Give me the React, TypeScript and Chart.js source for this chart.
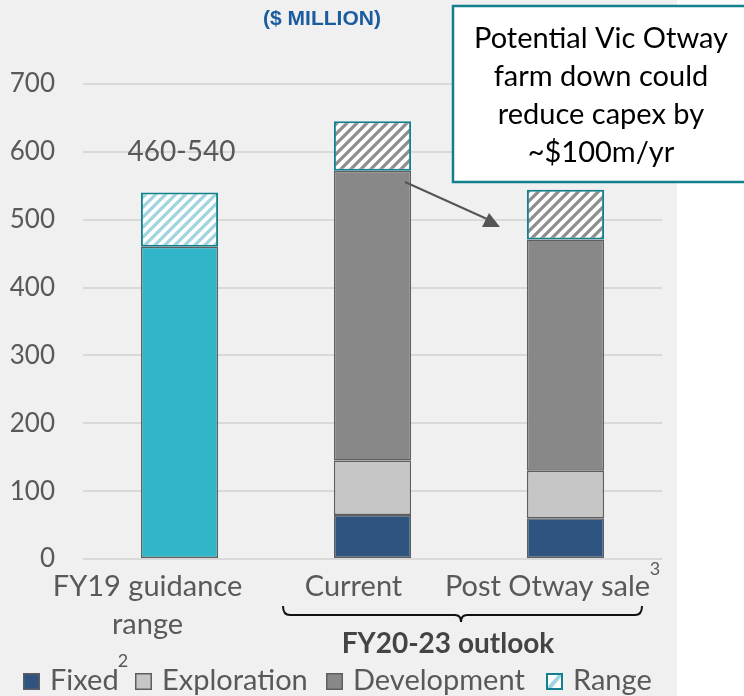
import React, { useEffect, useRef } from "react";
import { Chart, registerables } from "chart.js";

Chart.register(...registerables);

const categories = ["FY19 guidance range", "Current", "Post Otway sale"];
const fixedValues = [null, 65, 60];
const explorationValues = [null, 80, 70];
const developmentValues = [null, 427, 341];
const guidanceValues = [460, null, null];
const rangeValues = [80, 73, 73];
const yTickValues = [0, 100, 200, 300, 400, 500, 600, 700];
const rangeLabel = "460-540";
const xLabelLines = [["FY19 guidance", "range"], ["Current"], ["Post Otway sale"]];
const legendItems = ["Fixed", "Exploration", "Development", "Range"];
const title = "($ MILLION)";
const outlookLabel = "FY20-23 outlook";
const noteLines = ["Potential Vic Otway", "farm down could", "reduce capex by", "~$100m/yr"];

const FONT = "Lato, 'Open Sans', sans-serif";
const TEXT = "#595959";
const BG = "#f0f0f0";
const TEAL = "#13808d";
const BAR_BORDER = "#5e5e5e";
const C_FIXED = "#2f5480";
const C_EXPL = "#c6c6c6";
const C_DEV = "#888888";
const C_CYAN = "#31b6c9";

function stripes(color: string): CanvasPattern | string {
  const c = document.createElement("canvas");
  c.width = 10;
  c.height = 10;
  const x = c.getContext("2d");
  if (!x) return color;
  x.fillStyle = "#ffffff";
  x.fillRect(0, 0, 10, 10);
  x.strokeStyle = color;
  x.lineWidth = 3.2;
  x.beginPath();
  x.moveTo(-5, 15);
  x.lineTo(15, -5);
  x.moveTo(-10, 10);
  x.lineTo(10, -10);
  x.moveTo(0, 20);
  x.lineTo(20, 0);
  x.stroke();
  const p = x.createPattern(c, "repeat");
  return p || color;
}

const decorPlugin = {
  id: "decor",
  beforeDraw(chart: any) {
    const ctx = chart.ctx;
    ctx.save();
    ctx.fillStyle = "#ffffff";
    ctx.fillRect(0, 0, chart.width, chart.height);
    ctx.fillStyle = BG;
    ctx.fillRect(0, 0, 677, chart.height);
    ctx.restore();
  },
  afterDraw(chart: any) {
    const ctx = chart.ctx;
    const xs = chart.scales.x;
    const ys = chart.scales.y;
    ctx.save();
    // title
    ctx.fillStyle = "#1b5c9e";
    ctx.font = "bold 21px 'Liberation Sans', Arial, sans-serif";
    ctx.textAlign = "center";
    ctx.textBaseline = "middle";
    ctx.fillText(title, 322, 19);

    // range label above first bar
    ctx.fillStyle = TEXT;
    ctx.font = `28px ${FONT}`;
    ctx.fillText(rangeLabel, xs.getPixelForValue(0) + 2, ys.getPixelForValue(600));

    // x labels (shifted left like the original)
    const shifts = [-32, -19, -18];
    ctx.font = `29px ${FONT}`;
    xLabelLines.forEach((lines, i) => {
      const cx = xs.getPixelForValue(i) + shifts[i];
      lines.forEach((t, j) => {
        ctx.fillText(t, cx, 587 + j * 38);
      });
    });
    // superscript 3
    ctx.font = `18px ${FONT}`;
    ctx.fillText("3", 655, 569);

    // brace
    ctx.strokeStyle = "#111111";
    ctx.lineWidth = 2;
    ctx.beginPath();
    ctx.moveTo(283, 606);
    ctx.quadraticCurveTo(283, 615, 290, 615);
    ctx.lineTo(455, 615);
    ctx.quadraticCurveTo(461, 615, 461, 622);
    ctx.quadraticCurveTo(461, 615, 467, 615);
    ctx.lineTo(635, 615);
    ctx.quadraticCurveTo(642, 615, 642, 606);
    ctx.stroke();

    ctx.fillStyle = "#444444";
    ctx.font = `bold 28px ${FONT}`;
    ctx.fillText(outlookLabel, 448, 644);

    // legend
    const sq = [23, 135, 326, 546];
    const fills = [C_FIXED, C_EXPL, C_DEV, null];
    ctx.font = `29px ${FONT}`;
    ctx.textAlign = "left";
    legendItems.forEach((t, i) => {
      const x0 = sq[i];
      if (fills[i]) {
        ctx.fillStyle = fills[i];
        ctx.fillRect(x0, 673, 17, 17);
        ctx.strokeStyle = BAR_BORDER;
        ctx.lineWidth = 1.5;
        ctx.strokeRect(x0 + 0.75, 673.75, 15.5, 15.5);
      } else {
        ctx.fillStyle = "#ffffff";
        ctx.fillRect(x0, 673, 17, 17);
        ctx.fillStyle = "#a0d4de";
        ctx.beginPath();
        ctx.moveTo(x0 + 2, 688);
        ctx.lineTo(x0 + 6, 688);
        ctx.lineTo(x0 + 15, 677);
        ctx.lineTo(x0 + 15, 675);
        ctx.lineTo(x0 + 12, 675);
        ctx.lineTo(x0 + 2, 686);
        ctx.closePath();
        ctx.fill();
        ctx.strokeStyle = TEAL;
        ctx.lineWidth = 2;
        ctx.strokeRect(x0 + 1, 674, 15, 15);
      }
      ctx.fillStyle = TEXT;
      ctx.textBaseline = "middle";
      ctx.fillText(t, x0 + 27, 681);
    });
    ctx.textAlign = "center";
    ctx.font = `18px ${FONT}`;
    ctx.fillText("2", 123, 661);

    // arrow
    ctx.strokeStyle = "#555555";
    ctx.lineWidth = 2;
    ctx.beginPath();
    ctx.moveTo(405, 182);
    ctx.lineTo(487, 219);
    ctx.stroke();
    ctx.fillStyle = "#555555";
    ctx.beginPath();
    ctx.moveTo(489, 213);
    ctx.lineTo(500, 227);
    ctx.lineTo(482, 227);
    ctx.closePath();
    ctx.fill();

    // note box
    ctx.fillStyle = "#ffffff";
    ctx.fillRect(453, 6, 300, 176);
    ctx.strokeStyle = TEAL;
    ctx.lineWidth = 2.5;
    ctx.strokeRect(453, 6, 300, 176);
    ctx.fillStyle = "#000000";
    ctx.font = `29px ${FONT}`;
    ctx.textAlign = "center";
    noteLines.forEach((t, i) => {
      ctx.fillText(t, 601, 39 + i * 38);
    });
    ctx.restore();
  },
};

export default function App() {
  const ref = useRef<HTMLCanvasElement | null>(null);
  useEffect(() => {
    document.body.style.margin = "0";
    const canvas = ref.current;
    if (!canvas) return;
    const greyStripes = stripes("#8e8e8e");
    const cyanStripes = stripes("#a0d4de");
    const common = {
      barPercentage: 0.4,
      categoryPercentage: 1,
      borderSkipped: false,
      stack: "s",
    };
    const chart = new Chart(canvas, {
      type: "bar",
      data: {
        labels: categories,
        datasets: [
          { label: "Fixed", data: fixedValues, backgroundColor: C_FIXED, borderColor: BAR_BORDER, borderWidth: 1.5, ...common },
          { label: "Exploration", data: explorationValues, backgroundColor: C_EXPL, borderColor: BAR_BORDER, borderWidth: 1.5, ...common },
          { label: "Development", data: developmentValues, backgroundColor: C_DEV, borderColor: BAR_BORDER, borderWidth: 1.5, ...common },
          { label: "Guidance", data: guidanceValues, backgroundColor: C_CYAN, borderColor: BAR_BORDER, borderWidth: 1.5, ...common },
          {
            label: "Range",
            data: rangeValues,
            backgroundColor: [cyanStripes, greyStripes, greyStripes],
            borderColor: TEAL,
            borderWidth: 2,
            ...common,
          },
        ],
      } as any,
      options: {
        responsive: false,
        animation: false,
        devicePixelRatio: 1,
        layout: { padding: { top: 84, right: 82, left: 0, bottom: 0 } },
        plugins: { legend: { display: false }, tooltip: { enabled: false } },
        scales: {
          x: {
            stacked: true,
            grid: { display: false },
            border: { display: false },
            ticks: { display: false },
            afterFit(scale: any) {
              scale.height = 137;
            },
          },
          y: {
            stacked: true,
            min: 0,
            max: 700,
            afterBuildTicks(scale: any) {
              scale.ticks = yTickValues.map((v) => ({ value: v }));
            },
            afterFit(scale: any) {
              scale.width = 83;
            },
            border: { display: false },
            grid: { color: "#d9d9d9", lineWidth: 2, drawTicks: false },
            ticks: {
              color: TEXT,
              padding: 28,
              font: { family: FONT, size: 26 },
            },
          },
        },
      } as any,
      plugins: [decorPlugin],
    });
    return () => chart.destroy();
  }, []);
  return (
    <div style={{ position: "absolute", left: 0, top: 0, width: 744, height: 696 }}>
      <canvas ref={ref} width={744} height={696} />
    </div>
  );
}
